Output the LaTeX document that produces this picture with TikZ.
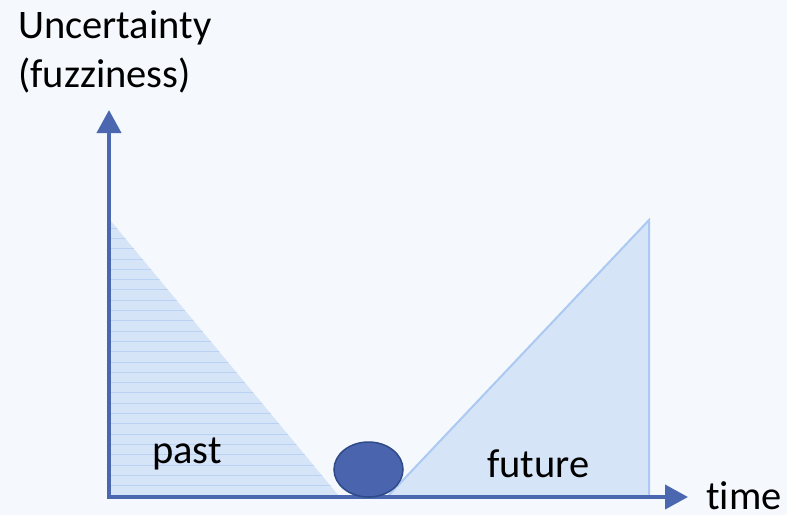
\documentclass[tikz,border=0pt]{standalone}
\usepackage{fontspec}
\setmainfont[Ligatures=NoCommon]{Carlito}
\usetikzlibrary{arrows.meta,shapes.geometric}
\definecolor{bg}{HTML}{F5F9FD}
\definecolor{axisblue}{HTML}{4A67B0}
\definecolor{trifill}{HTML}{D6E4F8}
\definecolor{triedge}{HTML}{ABC9F1}
\definecolor{hatch}{HTML}{B9D1F2}
\definecolor{dotfill}{HTML}{4A65AD}
\definecolor{dotedge}{HTML}{2F4A88}
\tikzset{
  axis/.style={draw=axisblue, line width=4pt, -{Triangle[length=23pt,width=24pt]}},
  lbl/.style={font=\fontsize{40.5}{48}\selectfont, text=black, inner sep=0pt, anchor=base west},
}
\begin{document}
\begin{tikzpicture}[x=1pt,y=-1pt]
\fill[bg] (0,0) rectangle (787,515);
\useasboundingbox (0,0) rectangle (787,515);
% coordinates
\coordinate (O) at (109,497);
\coordinate (Ytop) at (109,110);
\coordinate (Xend) at (688,497);
\coordinate (P1) at (110,220);
\coordinate (P2) at (339,496);
\coordinate (F1) at (388,496);
\coordinate (F2) at (649,220);
\coordinate (F3) at (649,496);
% past triangle
\fill[trifill] (P1) -- (P2) -- (110,496) -- cycle;
\begin{scope}
\clip (P1) -- (P2) -- (110,496) -- cycle;
\foreach \yy in {228,238.3,...,496} {
  \draw[hatch, line width=0.8pt] (100,\yy) -- (350,\yy);
}
\end{scope}
% future triangle
\filldraw[fill=trifill, draw=triedge, line width=2pt, line join=miter] (F1) -- (F2) -- (F3) -- cycle;
% axes
\draw[axis] (O) -- (Ytop);
\draw[axis] ([xshift=-2pt]O) -- (Xend);
% present
\node[ellipse, draw=dotedge, fill=dotfill, line width=1.5pt, minimum width=69pt, minimum height=55pt, inner sep=0pt] (now) at (368.5,469.5) {};
% labels
\node[lbl] (unc) at (18,38) {Uncertainty};
\node[lbl] (fuz) at (18,87) {(fuzziness)};
\node[lbl] (past) at (152,463) {past};
\node[lbl] (fut) at (487,477) {future};
\node[lbl] (time) at (706,509) {time};
\end{tikzpicture}
\end{document}
